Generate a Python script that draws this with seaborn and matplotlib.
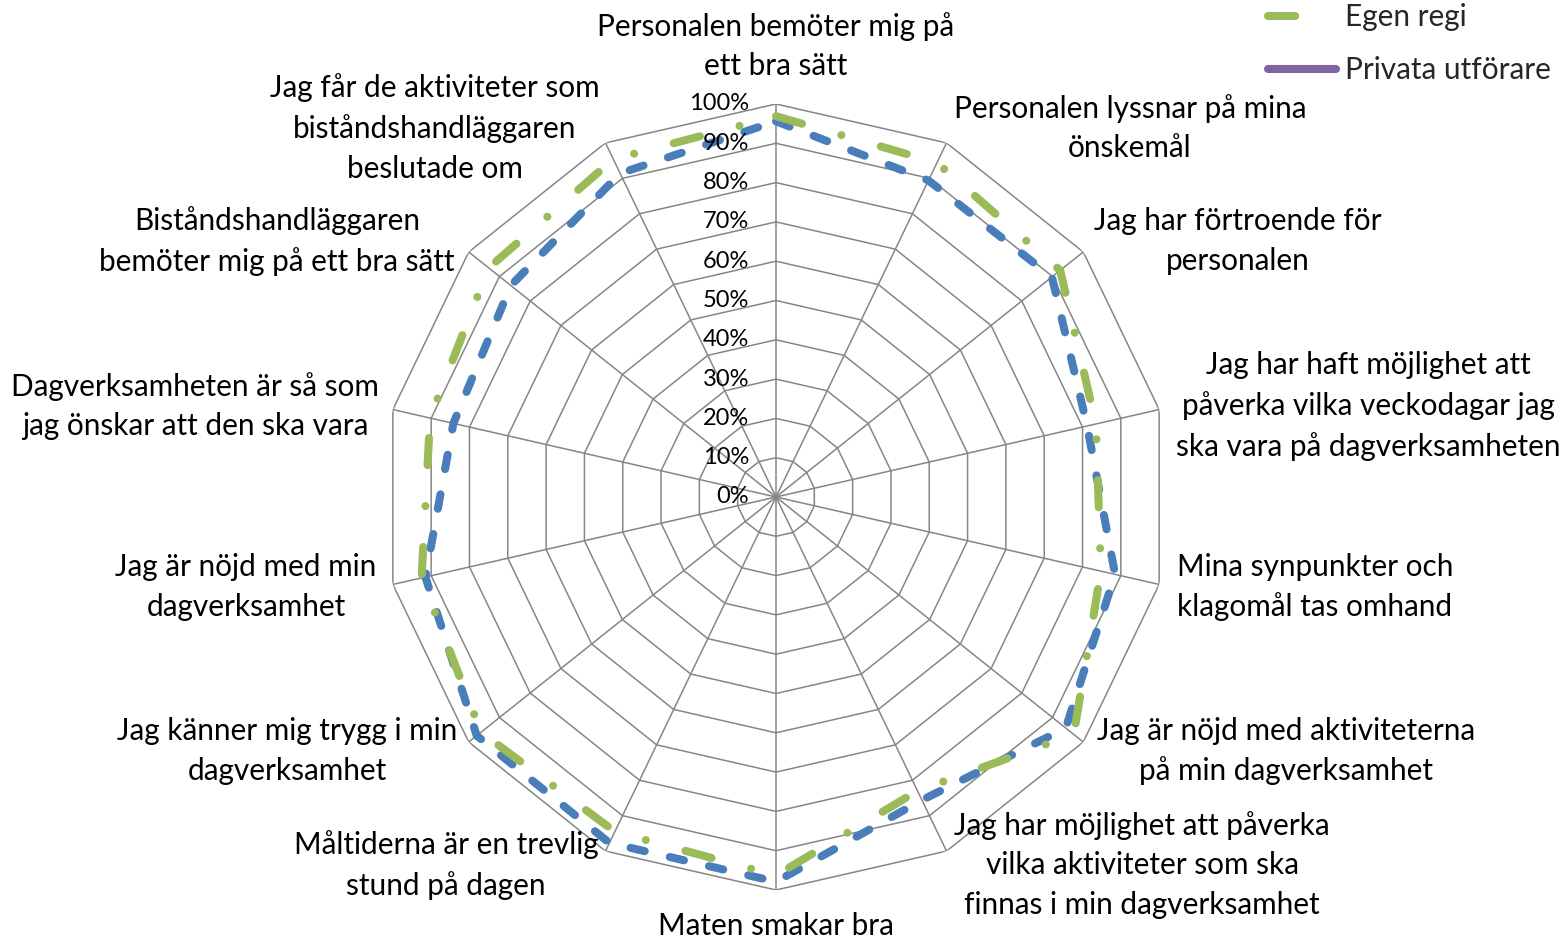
import numpy as np
import pandas as pd
import matplotlib
matplotlib.use("Agg")
import matplotlib.pyplot as plt
import matplotlib.transforms as mtransforms
from matplotlib.lines import Line2D
import seaborn as sns

# ---------------- data ----------------
categories = [
    "Personalen bemöter mig på\nett bra sätt",
    "Personalen lyssnar på mina\nönskemål",
    "Jag har förtroende för\npersonalen",
    "Jag har haft möjlighet att\npåverka vilka veckodagar jag\nska vara på dagverksamheten",
    "Mina synpunkter och\nklagomål tas omhand",
    "Jag är nöjd med aktiviteterna\npå min dagverksamhet",
    "Jag har möjlighet att påverka\nvilka aktiviteter som ska\nfinnas i min dagverksamhet",
    "Maten smakar bra",
    "Måltiderna är en trevlig\nstund på dagen",
    "Jag känner mig trygg i min\ndagverksamhet",
    "Jag är nöjd med min\ndagverksamhet",
    "Dagverksamheten är så som\njag önskar att den ska vara",
    "Biståndshandläggaren\nbemöter mig på ett bra sätt",
    "Jag får de aktiviteter som\nbiståndshandläggaren\nbeslutade om",
]
egen_regi = [96.9, 94.4, 92.5, 83.5, 84.8, 96.9, 83.0, 96.3, 94.5, 96.0, 92.5, 90.3, 93.5, 95.4]
totalt = [95.6, 89.4, 89.8, 81.2, 88.5, 94.3, 85.6, 97.9, 97.7, 97.4, 91.5, 84.2, 86.3, 91.4]
tick_values = [0, 10, 20, 30, 40, 50, 60, 70, 80, 90, 100]
tick_labels = [f"{v}%" for v in tick_values]
legend_labels = ["Egen regi", "Privata utförare"]

# label centre positions (pixels) — layout
label_pos = [(776, 46), (1130, 128), (1238, 241), (1368, 406), (1315, 587),
             (1286, 751), (1142, 865), (776, 926), (446, 865), (287, 751),
             (246, 587), (195, 406), (277, 241), (435, 128)]

# ---------------- style ----------------
sns.set_theme(style="white")
plt.rcParams["font.family"] = ["Lato", "DejaVu Sans"]
plt.rcParams["lines.scale_dashes"] = False

GREEN = "#9BBB59"
BLUE = "#4A7EBB"
PURPLE = "#8064A2"
GRID = "#868686"
GREEN_DASH = (19.5, 29.5, 0.01, 29.5)
BLUE_DASH = (10.5, 18.5)
LABEL_FS = 21.4

W, H = 1564, 940
fig = plt.figure(figsize=(W / 100, H / 100), dpi=100)
cx, cy, R = 776, 497, 393
ax = fig.add_axes([(cx - R) / W, (H - cy - R) / H, 2 * R / W, 2 * R / H], projection="polar")
ax.set_theta_offset(np.pi / 2)
ax.set_theta_direction(-1)
ax.set_ylim(0, 100)
ax.grid(False)
ax.set_xticks([])
ax.set_yticks([])
ax.spines["polar"].set_visible(False)
ax.patch.set_visible(False)

n = len(categories)
theta = np.arange(n) * 2 * np.pi / n
theta_c = np.append(theta, 2 * np.pi)

# polygon grid
for v in tick_values[1:]:
    ax.plot(theta_c, [v] * (n + 1), color=GRID, lw=1.1, zorder=1)
for t in theta:
    ax.plot([t, t], [0, 100], color=GRID, lw=1.1, zorder=1)

n_before = len(ax.lines)
# series
df = pd.concat([
    pd.DataFrame({"theta": theta_c, "value": totalt + totalt[:1], "serie": "Totalt"}),
    pd.DataFrame({"theta": theta_c, "value": egen_regi + egen_regi[:1], "serie": "Egen regi"}),
])
sns.lineplot(data=df, x="theta", y="value", hue="serie",
             palette={"Totalt": BLUE, "Egen regi": GREEN},
             sort=False, estimator=None, ax=ax, legend=False, lw=5.8)
for line in ax.lines[n_before:]:
    line.set_dash_capstyle("round")
    line.set_solid_capstyle("round")
    if matplotlib.colors.to_hex(line.get_color()).lower() == BLUE.lower():
        line.set_linestyle((0, BLUE_DASH))
        line.set_zorder(3)
    else:
        line.set_linestyle((0, GREEN_DASH))
        line.set_zorder(4)
ax.set_xlabel("")
ax.set_ylabel("")

# radial tick labels
off = mtransforms.offset_copy(ax.transData, fig=fig, x=-27 / 100 * 72, y=0, units="points")
for v, lab in zip(tick_values, tick_labels):
    ax.text(0, v, lab, transform=off, ha="right", va="center", fontsize=17, color="black")

# category labels
for (x, y), lab in zip(label_pos, categories):
    fig.text(x / W, 1 - y / H, lab, ha="center", va="center", multialignment="center",
             fontsize=LABEL_FS, color="black", linespacing=1.5)

# legend
handles = [
    Line2D([], [], color=GREEN, lw=5.8, linestyle=(0, GREEN_DASH), dash_capstyle="round"),
    Line2D([], [], color=PURPLE, lw=5.8, solid_capstyle="round"),
]
leg = fig.legend(handles, legend_labels, loc="upper left",
                 bbox_to_anchor=(1268 / W, 1 - 3 / H), frameon=False, fontsize=LABEL_FS,
                 handlelength=2.29, handletextpad=0.3, labelspacing=0.85,
                 borderpad=0, borderaxespad=0)

fig.savefig("out.png", dpi=100)
